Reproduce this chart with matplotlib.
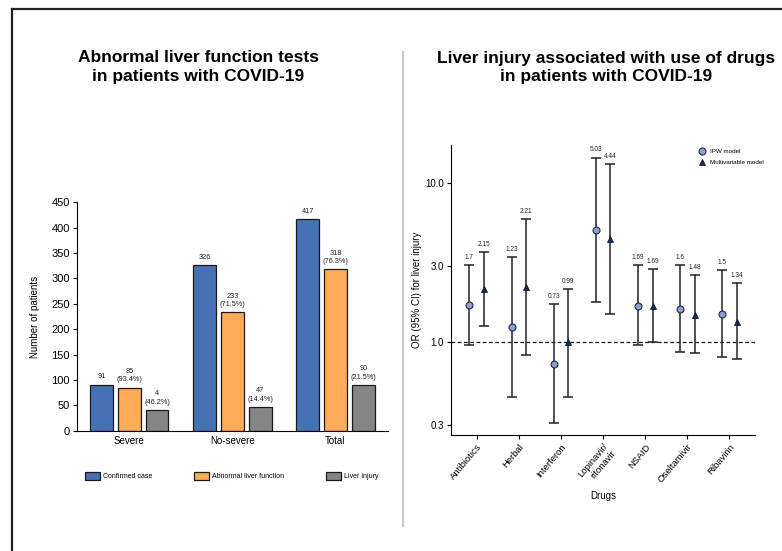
import numpy as np
import matplotlib
matplotlib.use("Agg")
import matplotlib.pyplot as plt
from matplotlib.lines import Line2D
from matplotlib.patches import Patch

plt.rcParams['font.family'] = ['Liberation Sans', 'DejaVu Sans']

# left panel data
groups = ["Severe", "No-severe", "Total"]
series = ["Confirmed case", "Abnormal liver function", "Liver injury"]
confirmed = [91, 326, 417]
abnormal = [85, 233, 318]
injury = [41, 47, 90]
confirmed_lbl = ["91", "326", "417"]
abnormal_lbl = ["85\n(93.4%)", "233\n(71.5%)", "318\n(76.3%)"]
injury_lbl = ["4\n(46.2%)", "47\n(14.4%)", "90\n(21.5%)"]
bar_colors = ["#4472b4", "#ffab57", "#858585"]

# right panel data
drugs = ["Antibiotics", "Herbal", "Interferon", "Lopinavir/\nritonavir", "NSAID", "Oseltamivir", "Ribavirin"]
ipw_or = [1.70, 1.23, 0.73, 5.03, 1.69, 1.60, 1.50]
ipw_lo = [0.95, 0.45, 0.31, 1.78, 0.95, 0.86, 0.80]
ipw_hi = [3.04, 3.42, 1.72, 14.4, 3.04, 3.04, 2.82]
multi_or = [2.15, 2.21, 0.99, 4.44, 1.69, 1.48, 1.34]
multi_lo = [1.26, 0.83, 0.45, 1.50, 1.00, 0.845, 0.78]
multi_hi = [3.68, 5.94, 2.15, 13.2, 2.88, 2.62, 2.33]
ipw_lbl = ["1.7", "1.23", "0.73", "5.03", "1.69", "1.6", "1.5"]
multi_lbl = ["2.15", "2.21", "0.99", "4.44", "1.69", "1.48", "1.34"]

fig = plt.figure(figsize=(7.82, 5.51), dpi=100)

# frame and divider
fig.add_artist(Line2D([12 / 782, 1], [1 - 9 / 551] * 2, color="#222222", lw=1.6))
fig.add_artist(Line2D([12 / 782] * 2, [0, 1 - 9 / 551], color="#222222", lw=1.6))
fig.add_artist(Line2D([403 / 782] * 2, [1 - 52 / 551, 1 - 526 / 551], color="#c8c8c8", lw=1.5))

fig.text(198 / 782, 1 - 67 / 551, "Abnormal liver function tests\nin patients with COVID-19",
         ha="center", va="center", fontsize=12.5, fontweight="bold", linespacing=1.25)
fig.text(606 / 782, 1 - 67 / 551, "Liver injury associated with use of drugs\nin patients with COVID-19",
         ha="center", va="center", fontsize=12.5, fontweight="bold", linespacing=1.25)

# ---- left: bar chart
ax1 = fig.add_axes([76.7 / 782, 1 - 430.7 / 551, 311.3 / 782, 228.4 / 551])
x = np.arange(len(groups))
w = 0.22
step = 0.27
for i, (vals, lbls) in enumerate([(confirmed, confirmed_lbl), (abnormal, abnormal_lbl), (injury, injury_lbl)]):
    pos = x + (i - 1) * step
    ax1.bar(pos, vals, width=w, color=bar_colors[i], edgecolor="#1a1a1a", linewidth=0.9)
    for p, v, t in zip(pos, vals, lbls):
        ax1.annotate(t, (p, v), xytext=(0, 3), textcoords="offset points",
                     ha="center", va="bottom", fontsize=5.3, linespacing=1.3, color="#222222")
ax1.set_xlim(-0.51, 2.51)
ax1.set_ylim(0, 450)
ax1.set_yticks(range(0, 451, 50))
ax1.set_xticks(x)
ax1.set_xticklabels(groups)
ax1.tick_params(axis="x", length=0, labelsize=7, pad=4)
ax1.tick_params(axis="y", length=3, labelsize=8, pad=2)
ax1.spines[["top", "right"]].set_visible(False)
ax1.set_ylabel("Number of patients", fontsize=7, labelpad=8)

handles = [Patch(facecolor=c, edgecolor="#1a1a1a", linewidth=0.9) for c in bar_colors]
fig.legend(handles, series, loc="center", bbox_to_anchor=(231.7 / 782, 1 - 476 / 551),
           ncol=3, frameon=False, fontsize=5, handlelength=2.2, handleheight=1.4,
           handletextpad=0.4, columnspacing=6.0, borderpad=0)

# ---- right: odds ratio plot
ax2 = fig.add_axes([450.7 / 782, 1 - 435.3 / 551, 304.3 / 782, 290.3 / 551])
xd = np.arange(len(drugs))
off = 0.175
err_kw = dict(fmt="none", ecolor="#222222", elinewidth=1.1, capsize=3.5, capthick=1.1)
ipw_or, ipw_lo, ipw_hi = map(np.array, (ipw_or, ipw_lo, ipw_hi))
multi_or, multi_lo, multi_hi = map(np.array, (multi_or, multi_lo, multi_hi))
ax2.errorbar(xd - off, ipw_or, yerr=[ipw_or - ipw_lo, ipw_hi - ipw_or], **err_kw)
ax2.errorbar(xd + off, multi_or, yerr=[multi_or - multi_lo, multi_hi - multi_or], **err_kw)
ax2.plot(xd - off, ipw_or, "o", ms=5, mfc="#8b9ed8", mec="#2a2a3a", mew=0.8, ls="none",
         label="IPW model", zorder=3)
ax2.plot(xd + off, multi_or, "^", ms=5, mfc="#172a5c", mec="#101a30", mew=0.6, ls="none",
         label="Multivariable model", zorder=3)
for xi, hi, t in zip(xd - off, ipw_hi, ipw_lbl):
    ax2.annotate(t, (xi, hi), xytext=(0, 3), textcoords="offset points",
                 ha="center", va="bottom", fontsize=4.7, color="#222222")
for xi, hi, t in zip(xd + off, multi_hi, multi_lbl):
    ax2.annotate(t, (xi, hi), xytext=(0, 3), textcoords="offset points",
                 ha="center", va="bottom", fontsize=4.7, color="#222222")
ax2.axhline(1.0, color="#111111", lw=0.9, ls=(0, (3, 2)), zorder=1)
ax2.set_yscale("log")
ax2.set_ylim(0.258, 17.3)
ax2.set_yticks([0.3, 1.0, 3.0, 10.0])
ax2.set_yticklabels(["0.3", "1.0", "3.0", "10.0"])
ax2.minorticks_off()
ax2.set_xlim(-0.62, 6.61)
ax2.set_xticks(xd)
ax2.set_xticklabels(drugs, rotation=50, ha="right", rotation_mode="anchor", fontsize=6.5,
                    linespacing=1.1)
ax2.tick_params(axis="both", length=3, labelsize=7, pad=2)
ax2.tick_params(axis="x", labelsize=6.8)
ax2.spines[["top", "right"]].set_visible(False)
ax2.set_ylabel("OR (95% CI) for liver injury", fontsize=7, labelpad=2)
ax2.set_xlabel("Drugs", fontsize=7, labelpad=4)
ax2.legend(loc="upper left", bbox_to_anchor=(699 / 782, 1 - 149 / 551), bbox_transform=fig.transFigure,
           frameon=False, fontsize=4.5, handlelength=0.8, handletextpad=0.9, labelspacing=0.9,
           borderpad=0, borderaxespad=0)

fig.savefig("out.png", dpi=100)
